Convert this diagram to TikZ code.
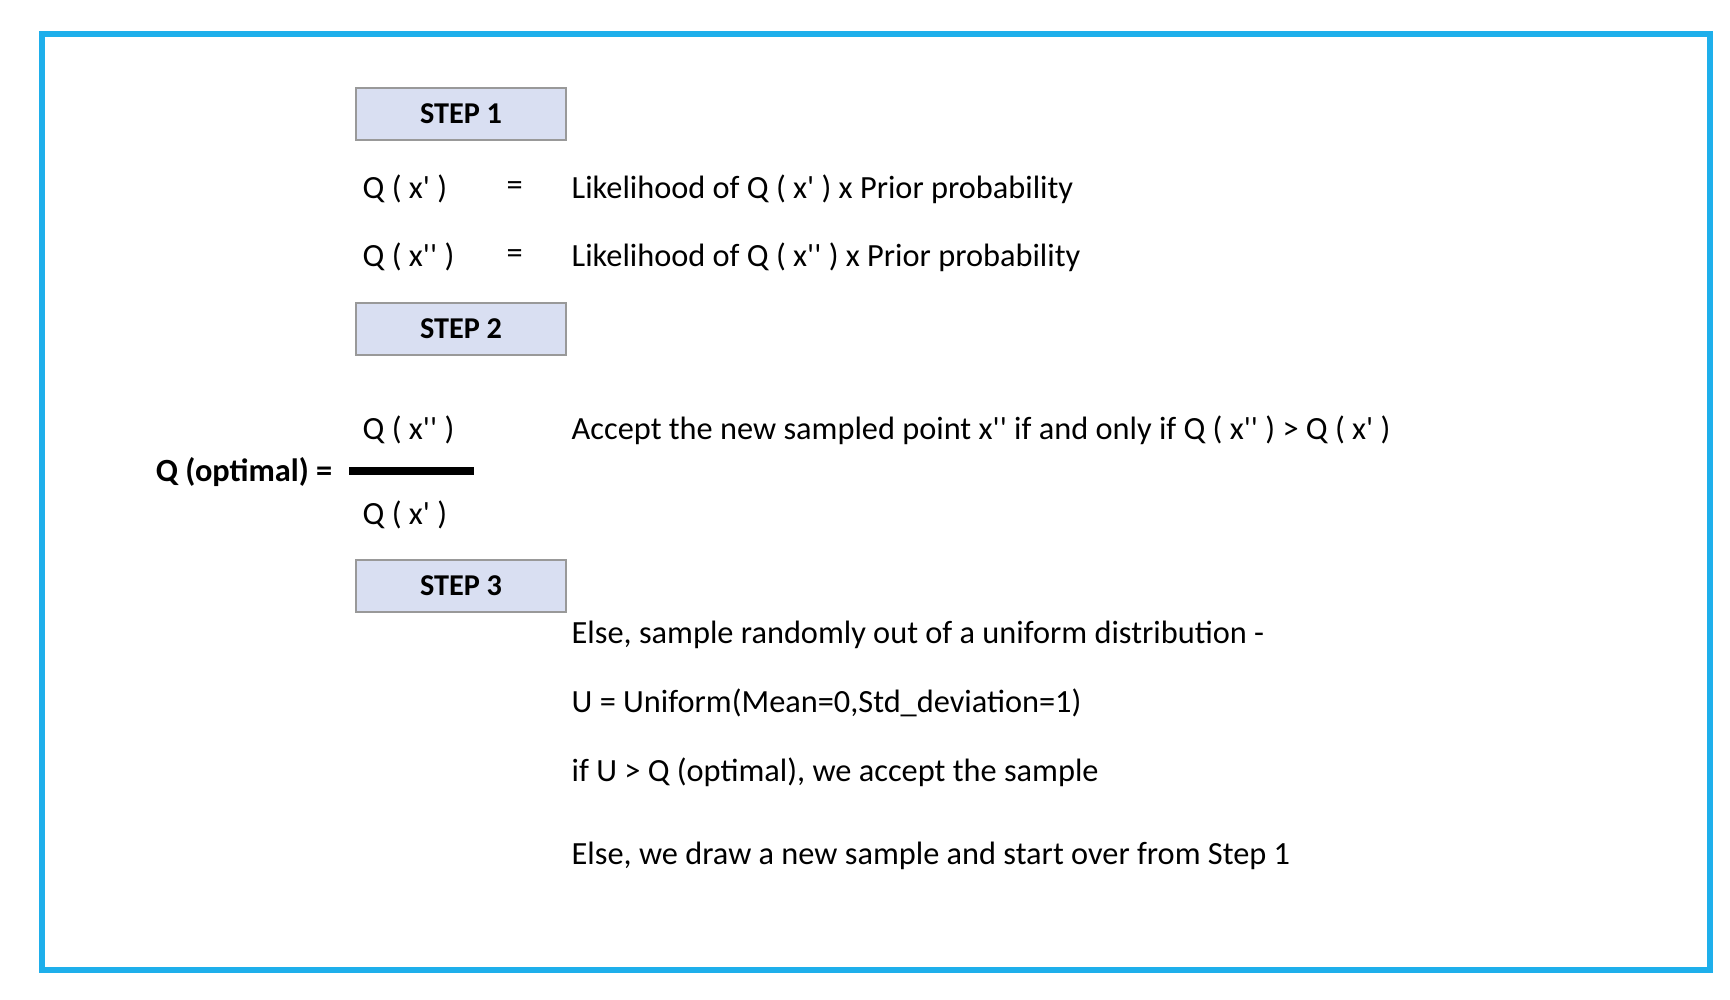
\documentclass[tikz,border=0pt]{standalone}
\usepackage{fontspec}
\setmainfont{Carlito}[Ligatures=TeXReset]
\newcommand\ap{\char"27\relax}
\begin{document}
\begin{tikzpicture}[x=0.01cm,y=-0.01cm,
  stepbox/.style={draw=gray!80,fill={rgb,255:red,217;green,223;blue,242},line width=0.8pt,minimum width=2.1cm,minimum height=0.52cm,font=\fontsize{8.6}{10}\selectfont\bfseries},
  txt/.style={anchor=west,inner sep=0,font=\fontsize{9.2}{11}\selectfont}]
\useasboundingbox (0,0) rectangle (1730,1000);
\draw[draw={rgb,255:red,30;green,175;blue,235},line width=1.6pt] (42,34) rectangle (1710,970);
\node[stepbox] (s1) at (461,114) {STEP 1};
\node[stepbox] (s2) at (461,329) {STEP 2};
\node[stepbox] (s3) at (461,586) {STEP 3};
\node[txt] (a1) at (362,189) {Q ( x\ap\ )};
\node[txt] (e1) at (506,189) {=};
\node[txt] (b1) at (571,189) {Likelihood of Q ( x\ap\ ) x Prior probability};
\node[txt] (a2) at (362,257) {Q ( x\ap\ap\ )};
\node[txt] (e2) at (506,257) {=};
\node[txt] (b2) at (571,257) {Likelihood of Q ( x\ap\ap\ ) x Prior probability};
\node[txt] (n) at (362,430) {Q ( x\ap\ap\ )};
\node[txt] (d) at (362,515) {Q ( x\ap\ )};
\node[txt,anchor=east,font=\fontsize{9.2}{11}\selectfont\bfseries] (qo) at (333,472) {Q (optimal) =};
\coordinate (f1) at (349,471); \coordinate (f2) at (474,471);
\draw[line width=2.2pt] (f1) -- (f2);
\node[txt] (c1) at (571,430) {Accept the new sampled point x\ap\ap\ if and only if Q ( x\ap\ap\ ) > Q ( x\ap\ )};
\node[txt] (c2) at (571,635) {Else, sample randomly out of a uniform distribution -};
\node[txt] (c3) at (571,703) {U = Uniform(Mean=0,Std\_deviation=1)};
\node[txt] (c4) at (571,772) {if U > Q (optimal), we accept the sample};
\node[txt] (c5) at (571,856) {Else, we draw a new sample and start over from Step 1};
\end{tikzpicture}
\end{document}
